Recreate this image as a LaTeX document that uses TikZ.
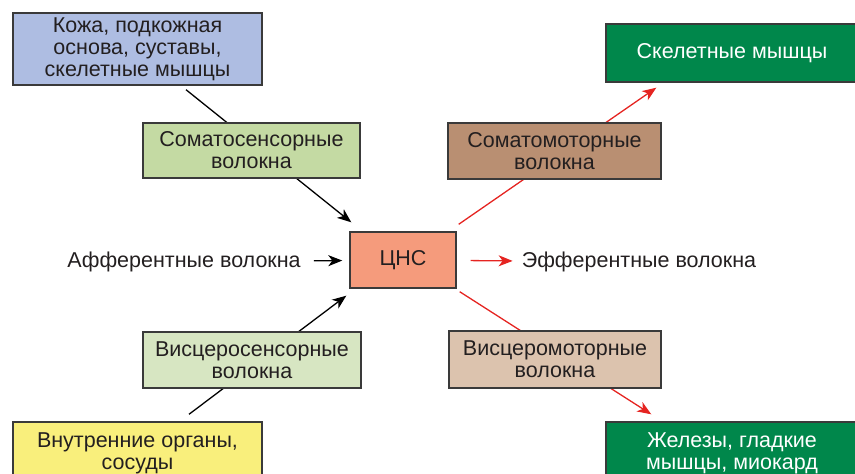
\documentclass[tikz,border=0pt]{standalone}
\usepackage{fontspec}
\setmainfont{Liberation Sans}
\usetikzlibrary{arrows.meta,calc,backgrounds}

\definecolor{skinblue}{HTML}{AEBDE2}
\definecolor{somgreen}{HTML}{C4DAA3}
\definecolor{visgreen}{HTML}{D7E6C2}
\definecolor{cnsred}{HTML}{F59B7C}
\definecolor{sombrown}{HTML}{B98F72}
\definecolor{visbrown}{HTML}{DCC3AE}
\definecolor{organyellow}{HTML}{F9EF7C}
\definecolor{musclegreen}{HTML}{00874B}
\definecolor{boxline}{HTML}{3A3A3A}
\definecolor{textdark}{HTML}{231F20}
\definecolor{effred}{HTML}{E52421}

\begin{document}
\begin{tikzpicture}[x=1pt,y=-1pt,
		box/.style={draw=boxline,line width=1.4pt,inner sep=0pt,align=center,
			text=textdark,font=\fontsize{21.5}{22}\selectfont},
		lbl/.style={inner sep=0pt,text=textdark,font=\fontsize{21.5}{22}\selectfont},
		aff/.style={-{Stealth[length=14pt,width=11pt,inset=4pt]},line width=1.3pt,draw=black},
		eff/.style={-{Stealth[length=14pt,width=11pt,inset=4pt]},line width=1.3pt,draw=effred}]
	\useasboundingbox (0,0) rectangle (855,474);
	\clip (0,0) rectangle (855,474);
	% receptors and effectors
	\node[box,fill=skinblue,minimum width=249pt,minimum height=72pt] (skin) at (137.5,49) {Кожа, подкожная\\основа, суставы,\\скелетные мышцы};
	\node[box,fill=organyellow,minimum width=249pt,minimum height=62pt] (organs) at (137.5,453) {Внутренние органы,\\сосуды};
	\node[box,fill=musclegreen,text=white,minimum width=252pt,minimum height=58pt] (skel) at (732,53) {Скелетные мышцы};
	\node[box,fill=musclegreen,text=white,minimum width=252pt,minimum height=62pt] (glands) at (732,453) {Железы, гладкие\\мышцы, миокард};
	% fibres
	\node[box,fill=somgreen,minimum width=217pt,minimum height=55pt] (somsens) at (251.5,150.5) {Соматосенсорные\\волокна};
	\node[box,fill=visgreen,minimum width=218pt,minimum height=56pt] (vissens) at (252,360) {Висцеросенсорные\\волокна};
	\node[box,fill=sombrown,minimum width=213pt,minimum height=56pt] (sommot) at (554.5,151) {Соматомоторные\\волокна};
	\node[box,fill=visbrown,minimum width=212pt,minimum height=57pt] (vismot) at (555,359.5) {Висцеромоторные\\волокна};
	% centre
	\node[box,fill=cnsred,minimum width=106pt,minimum height=56pt] (cns) at (403,260) {ЦНС};
	\node[lbl] (afftext) at (184,262) {Афферентные волокна};
	\node[lbl] (efftext) at (639,262) {Эфферентные волокна};

	\coordinate (skinout) at ($(skin.south)+(48.5,4)$);
	\coordinate (cnsin1) at ($(cns.north west)+(2,-9)$);
	\coordinate (organout) at ($(organs.north)+(51.5,-7)$);
	\coordinate (cnsin2) at ($(cns.south west)+(-3,7)$);
	\coordinate (cnsout1) at ($(cns.north east)+(2,-7)$);
	\coordinate (skelin) at ($(skel.south west)+(51,5)$);
	\coordinate (cnsout2) at ($(cns.south east)+(3,3)$);
	\coordinate (glandin) at ($(glands.north west)+(46,-7)$);

	\begin{scope}[on background layer]
		\path
		(skinout) edge[aff] (cnsin1)
		(organout) edge[aff] (cnsin2)
		(cnsout1) edge[eff] (skelin)
		(cnsout2) edge[eff] (glandin);
	\end{scope}
	\path
	(afftext) edge[aff,shorten <=13pt,shorten >=7pt] (cns)
	(cns) edge[eff,shorten <=14pt,shorten >=9pt] (efftext);
\end{tikzpicture}
\end{document}
